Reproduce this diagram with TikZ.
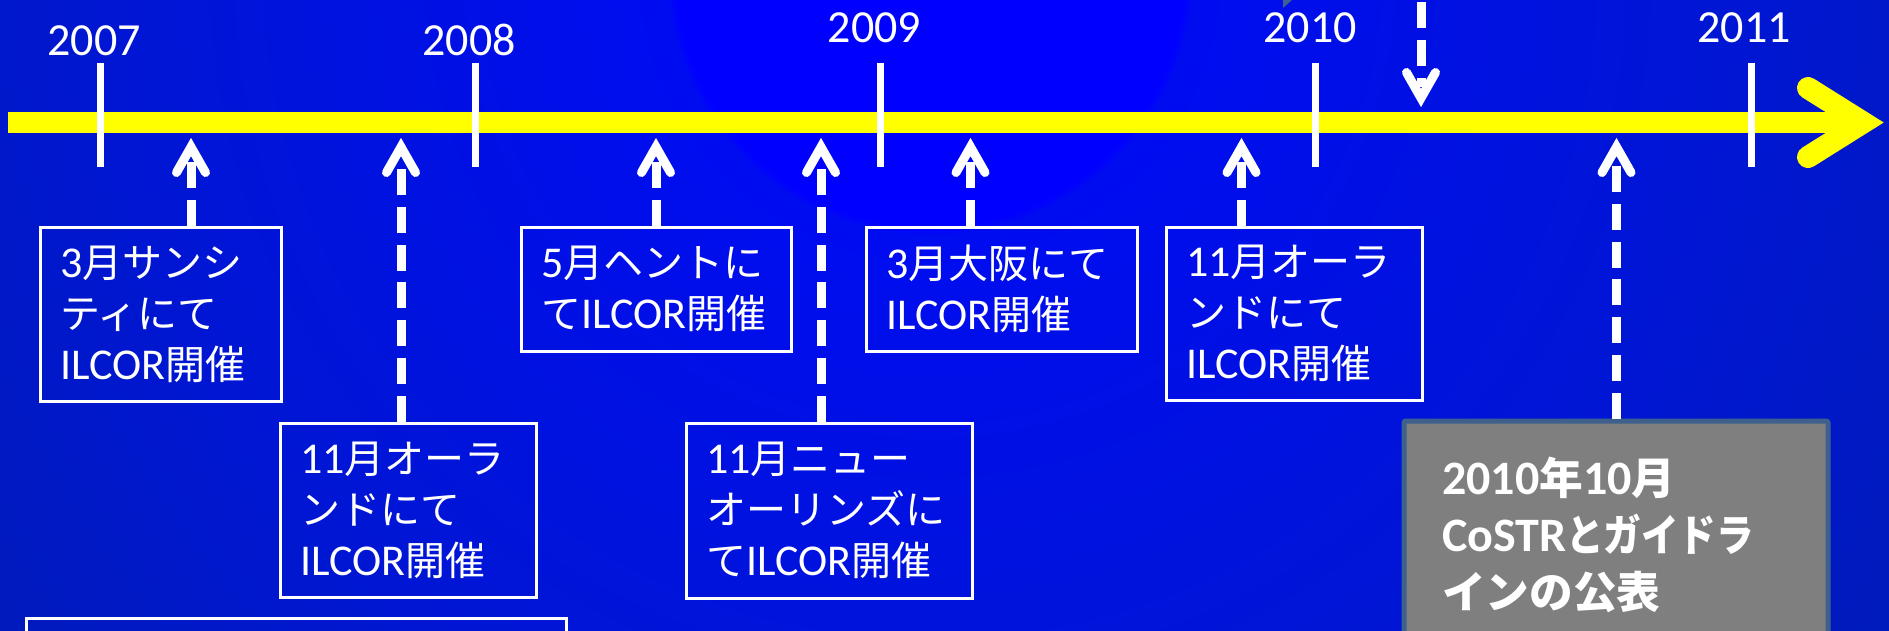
\documentclass[tikz,border=0pt]{standalone}
\usepackage{fontspec}
\usepackage{graphicx}
\setmainfont{Carlito}
\newfontfamily\jpfont{Noto Sans CJK JP}[Scale=0.91]
\newcommand\J[1]{{\jpfont #1}}
\newcommand\JN[1]{\scalebox{0.86}[1]{\jpfont #1}}
\definecolor{bgA}{RGB}{0,0,255}
\definecolor{bgB}{RGB}{0,12,240}
\definecolor{bgC}{RGB}{0,22,212}
\definecolor{bgD}{RGB}{0,30,170}
\definecolor{bgE}{RGB}{0,35,122}
\definecolor{bgF}{RGB}{0,36,105}
\definecolor{boxgray}{RGB}{127,127,127}
\definecolor{slate}{RGB}{62,96,140}
\definecolor{barcol}{RGB}{255,255,0}
\pgfdeclareradialshading{bgshade}{\pgfpoint{0bp}{0bp}}{color(0bp)=(bgA); color(5.3bp)=(bgA); color(5.5bp)=(bgB); color(16.7bp)=(bgC); color(29.2bp)=(bgD); color(41.7bp)=(bgE); color(50bp)=(bgF)}
\begin{document}
\begin{tikzpicture}[x=1pt,y=-1pt,
  yearlbl/.style={text=white, anchor=base, inner sep=0pt, font=\fontsize{46}{50}\selectfont},
  tickline/.style={draw=white, line width=7pt},
  barline/.style={draw=barcol, line width=21pt},
  barhead/.style={draw=barcol, line width=22pt, line cap=round, line join=miter},
  evbox/.style={draw=white, line width=3pt, text=white, align=left, inner xsep=20pt, inner ysep=0pt,
    font=\fontsize{44}{51}\selectfont},
  graybox/.style={draw=slate, fill=boxgray, line width=5pt, rounded corners=2pt, text=white, align=left,
    inner xsep=38pt, inner ysep=0pt, font=\fontsize{48}{57}\selectfont\bfseries},
  conn/.style={draw=white, line width=9pt, dash pattern=on 26pt off 11.7pt},
  chevline/.style={draw=white, line width=9pt, line cap=round, line join=miter},
  upchev/.pic={\draw[chevline] (-14.5,14.5) -- (0,-11) -- (14.5,14.5);},
  downchev/.pic={\draw[chevline] (-14.5,-14.5) -- (0,11) -- (14.5,-14.5);}
]
\useasboundingbox (0,0) rectangle (1889,630);
\clip (0,0) rectangle (1889,630);
% background
\shade[shading=bgshade] (930,-28) circle [radius=1200pt];
\fill[slate] (1283,0) -- (1283,8) -- (1292,0) -- cycle;

% timeline bar
\draw[barline] (8,122.5) -- (1863,122.5);
\draw[barhead] (1808,88) -- (1863,122.5) -- (1808,157);

% ticks and years
\foreach \tx in {100,475,880,1315.5,1751} \draw[tickline] (\tx,63) -- (\tx,167);
\node[yearlbl] (y2007) at (94,55) {2007};
\node[yearlbl] (y2008) at (469,55) {2008};
\node[yearlbl] (y2009) at (874.5,42) {2009};
\node[yearlbl] (y2010) at (1310,42) {2010};
\node[yearlbl] (y2011) at (1744,42) {2011};

% event boxes
\node[evbox, text width=201pt, minimum height=174pt] (b1) at (160.5,314) {3\J{月サンシ}\\\J{ティにて}\\ILCOR\J{開催}};
\node[evbox, text width=216pt, minimum height=174pt] (b2) at (408,510) {11\J{月オーラ}\\\J{ンドにて}\\ILCOR\J{開催}};
\node[evbox, text width=230pt, minimum height=124pt] (b3) at (656,289) {5\J{月ヘントに}\\\J{て}ILCOR\J{開催}};
\node[evbox, text width=231pt, minimum height=124pt] (b4) at (1001.5,289) {3\J{月大阪にて}\\ILCOR\J{開催}};
\node[evbox, text width=216pt, minimum height=173pt] (b5) at (1294,313.5) {11\J{月オーラ}\\\J{ンドにて}\\ILCOR\J{開催}};
\node[evbox, text width=246pt, minimum height=175pt] (b6) at (829,510.5) {11\J{月ニュー}\\\J{オーリンズに}\\\J{て}ILCOR\J{開催}};
\node[graybox, text width=348pt, minimum height=228pt] (g) at (1616,535) {2010\J{年}10\J{月}\\CoSTR\JN{とガイドラ}\\\J{インの公表}};
\node[evbox, minimum width=540pt, minimum height=120pt] (b8) at (296,678) {};

% arrow tip points
\coordinate (t1) at (191,158);
\coordinate (t2) at (401,158);
\coordinate (t3) at (656,158);
\coordinate (t4) at (821,158);
\coordinate (t5) at (970.5,158);
\coordinate (t6) at (1241.5,158);
\coordinate (t7) at (1616.5,158);
\coordinate (t8) at (1421,87);
\coordinate (s8) at (1421,-35.4);

% connectors
\draw[conn] (t1 |- b1.north) -- (t1);
\draw[conn] (t2 |- b2.north) -- (t2);
\draw[conn] (t3 |- b3.north) -- (t3);
\draw[conn] (t4 |- b6.north) -- (t4);
\draw[conn] (t5 |- b4.north) -- (t5);
\draw[conn] (t6 |- b5.north) -- (t6);
\draw[conn] (t7 |- g.north) -- (t7);
\draw[conn] (s8) -- (t8);
\foreach \t in {t1,t2,t3,t4,t5,t6,t7} \pic at (\t) {upchev};
\pic at (t8) {downchev};
\end{tikzpicture}
\end{document}
